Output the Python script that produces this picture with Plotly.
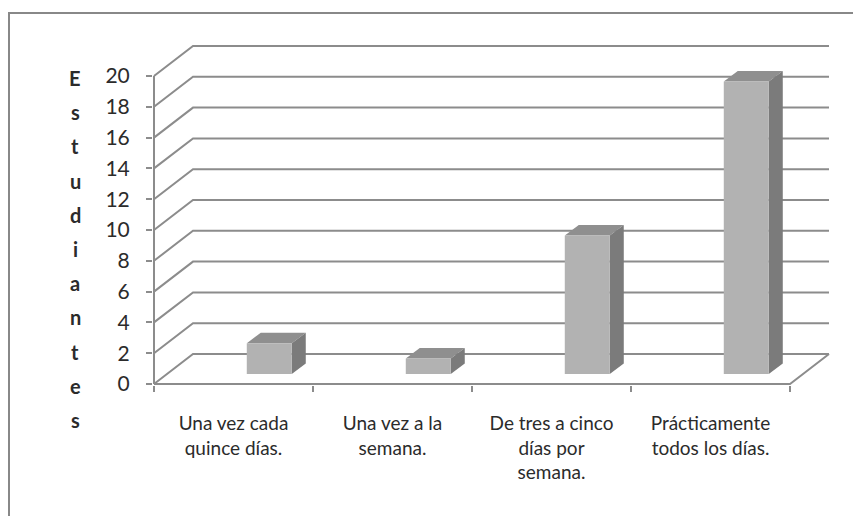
import plotly.graph_objects as go

# ---- data ----
categories = ["Una vez cada<br>quince días.", "Una vez a la<br>semana.",
              "De tres a cinco<br>días por<br>semana.", "Prácticamente<br>todos los días."]
values = [2, 1, 9, 19]
y_ticks = list(range(0, 21, 2))
y_title = "Estudiantes"

# ---- geometry (page has an 8px body margin, so the figure is 8px smaller) ----
OFF = 8
W, H = 861 - OFF, 516 - OFF
L, T = 153 - OFF, 40 - OFF
PW = 835 - 153
PH = 385 - 40
R, B = W - L - PW, H - T - PH
CW = 159.0          # px per category
PY = 15.4           # px per unit
x0r = -0.5 - 1 / CW
x1r = x0r + PW / CW
y0r = -1 / PY
y1r = y0r + PH / PY

BDX, BDY = 39 / CW, 30 / PY          # back-wall depth
BAR_SHIFT, BAR_W = 0.225, 45 / CW
BAR_BASE = 10 / PY
FDX, FDY = 14 / CW, 10.5 / PY        # bar depth faces

GRID = "#8c8c8c"
FRONT = "#b2b2b2"
TOP = "#8f8f8f"
SIDE = "#7b7b7b"
TXT = "#2b2b2b"
FONT = "Lato"

n = len(categories)
xl, xr = -0.5, n - 0.5

shapes = []
# back wall grid lines with diagonal side-wall segments
for v in y_ticks:
    shapes.append(dict(type="path", layer="below",
                       path=f"M {xl},{v} L {xl+BDX},{v+BDY} L {xr+BDX},{v+BDY}",
                       line=dict(color=GRID, width=2), xref="x", yref="y"))
# floor front edge and right diagonal
shapes.append(dict(type="path", layer="below",
                   path=f"M {xl},0 L {xr},0 L {xr+BDX},{BDY}",
                   line=dict(color=GRID, width=2), xref="x", yref="y"))
# front vertical axis line
shapes.append(dict(type="line", layer="below", x0=xl, x1=xl, y0=0, y1=max(y_ticks),
                   line=dict(color=GRID, width=2), xref="x", yref="y"))

# bar top and side faces
for i, v in enumerate(values):
    xa = i + BAR_SHIFT - BAR_W / 2
    xb = i + BAR_SHIFT + BAR_W / 2
    yt = v + BAR_BASE
    shapes.append(dict(type="path", layer="below",
                       path=f"M {xa},{yt} L {xb},{yt} L {xb+FDX},{yt+FDY} L {xa+FDX},{yt+FDY} Z",
                       fillcolor=TOP, line=dict(width=0), xref="x", yref="y"))
    shapes.append(dict(type="path", layer="below",
                       path=f"M {xb},{BAR_BASE} L {xb},{yt} L {xb+FDX},{yt+FDY} L {xb+FDX},{BAR_BASE+FDY} Z",
                       fillcolor=SIDE, line=dict(width=0), xref="x", yref="y"))

# page-pixel -> paper helpers (for the frame and the stacked title)
def px_x(p):
    return (p - OFF - L) / PW

def px_y(p):
    return (T + PH - (p - OFF)) / PH

# outer chart border (top and left, cropped picture)
shapes.append(dict(type="line", xref="paper", yref="paper", x0=px_x(8), x1=px_x(870),
                   y0=px_y(13), y1=px_y(13), line=dict(color="#888888", width=2)))
shapes.append(dict(type="line", xref="paper", yref="paper", x0=px_x(9), x1=px_x(9),
                   y0=px_y(13), y1=px_y(530), line=dict(color="#888888", width=2)))

# vertical axis title, one letter per line
annotations = []
for k, ch in enumerate(y_title):
    annotations.append(dict(text=ch, xref="paper", yref="paper", x=px_x(75),
                            y=px_y(78 + 34.2 * k), showarrow=False, xanchor="center",
                            yanchor="middle", font=dict(family=FONT, size=20, color=TXT, weight="bold")))

fig = go.Figure()
fig.add_trace(go.Bar(x=[i + BAR_SHIFT for i in range(n)], y=values, base=BAR_BASE,
                     width=BAR_W, marker=dict(color=FRONT, line=dict(width=0)),
                     hoverinfo="skip", showlegend=False))

fig.update_layout(
    width=W, height=H, margin=dict(l=L, r=R, t=T, b=B),
    paper_bgcolor="white", plot_bgcolor="white",
    shapes=shapes, annotations=annotations, showlegend=False,
    xaxis=dict(range=[x0r, x1r], tickvals=list(range(n)), ticktext=categories,
               ticks="", showgrid=False, zeroline=False, showline=False,
               tickfont=dict(family=FONT, size=19, color=TXT), ticklabelstandoff=25,
               minor=dict(tickvals=[xl + k for k in range(n + 1)], ticks="outside",
                          ticklen=6, tickcolor=GRID, tickwidth=2, showgrid=False)),
    yaxis=dict(range=[y0r, y1r], tickvals=y_ticks, ticks="outside", ticklen=6,
               tickcolor=GRID, tickwidth=2, showgrid=False, zeroline=False, showline=False,
               tickfont=dict(family=FONT, size=21, color=TXT), ticklabelstandoff=12),
)

fig.write_html("out.html")
